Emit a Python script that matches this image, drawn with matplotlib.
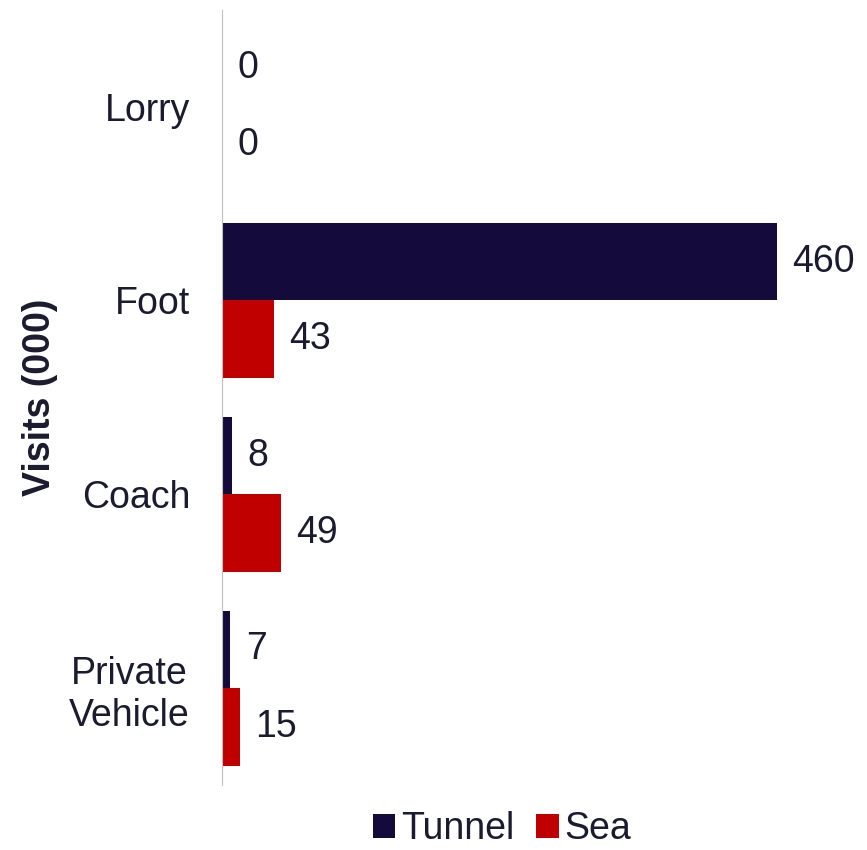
import numpy as np
import matplotlib.pyplot as plt

# данные
categories = ["Lorry", "Foot", "Coach", "Private\nVehicle"]
tunnel = [0, 460, 8, 7]
sea = [0, 43, 49, 15]

plt.rcParams['font.family'] = ['Liberation Sans', 'DejaVu Sans']
text_color = '#1b1b2f'
tunnel_color = '#140a3c'
sea_color = '#c00000'

fig = plt.figure(figsize=(8.67, 8.5), dpi=100)
ax = fig.add_axes([0.256, 0.0765, 0.713, 0.912])

y = np.arange(len(categories))
h = 0.4
b1 = ax.barh(y - h / 2, tunnel, height=h, color=tunnel_color, label='Tunnel')
b2 = ax.barh(y + h / 2, sea, height=h, color=sea_color, label='Sea')

# подписи значений
for bars, vals in [(b1, tunnel), (b2, sea)]:
    for rect, v in zip(bars, vals):
        ax.annotate(str(v), (rect.get_width(), rect.get_y() + rect.get_height() / 2),
                    xytext=(11, 0), textcoords='offset points',
                    va='center', ha='left', fontsize=27, color=text_color)

ax.set_xlim(0, 512)
ax.set_ylim(3.5, -0.5)
ax.set_yticks(y)
ax.set_yticklabels(categories, fontsize=27, color=text_color, ha='right',
                   multialignment='center', linespacing=1.2)
ax.tick_params(axis='y', length=0, pad=23)
ax.set_xticks([])
ax.set_ylabel('Visits (000)', fontsize=27, fontweight='bold', color=text_color)
ax.yaxis.set_label_coords(-0.265, 0.5)

for s in ['top', 'right', 'bottom']:
    ax.spines[s].set_visible(False)
ax.spines['left'].set_color('#bfbfbf')

fig.legend(handles=[b1, b2], loc='lower center', bbox_to_anchor=(0.579, -0.036), ncol=2,
           frameon=False, fontsize=27, handlelength=0.6, handleheight=0.6,
           handletextpad=0.15, columnspacing=0.6, labelcolor=text_color)

plt.savefig('out.png', dpi=100)
